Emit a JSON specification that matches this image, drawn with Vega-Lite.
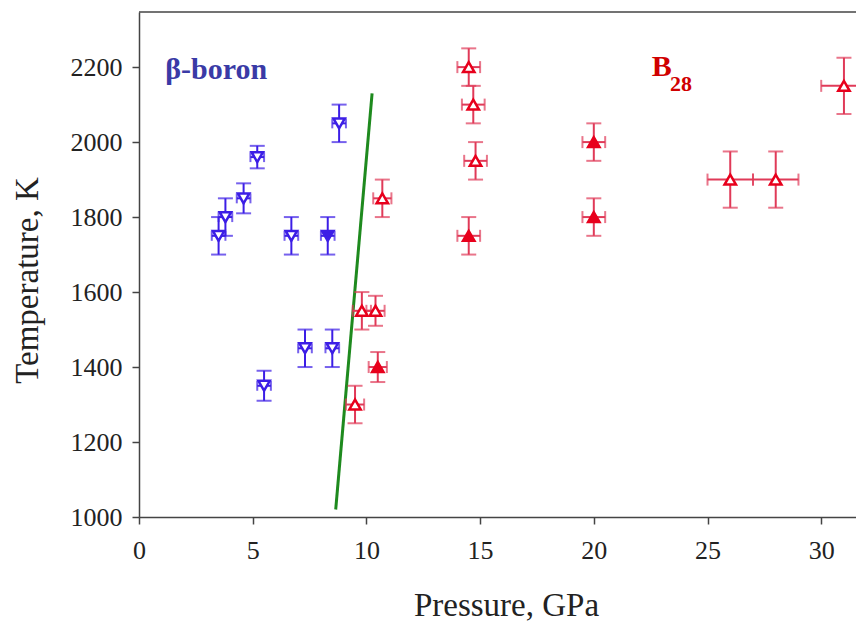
{
  "$schema": "https://vega.github.io/schema/vega-lite/v6.json",
  "autosize": {"type": "none"},
  "width": 717,
  "height": 505,
  "padding": {"left": 139, "top": 12, "right": 0, "bottom": 107},
  "background": "white",
  "config": {
    "view": {"stroke": null},
    "font": "Liberation Serif",
    "axis": {
      "grid": false,
      "labelFlush": false,
      "domainColor": "#444444",
      "domainWidth": 1.5,
      "tickColor": "#444444",
      "tickWidth": 1.5,
      "tickSize": 7,
      "labelFont": "Liberation Serif",
      "labelFontSize": 26,
      "labelColor": "#222222",
      "titleFont": "Liberation Serif",
      "titleFontSize": 33,
      "titleFontWeight": "normal",
      "titleColor": "#222222"
    }
  },
  "datasets": {
    "beta": [
      {"p": 3.5, "t": 1750, "dp": 0.3, "dt": 50, "solid": false},
      {"p": 3.8, "t": 1800, "dp": 0.3, "dt": 50, "solid": false},
      {"p": 4.6, "t": 1850, "dp": 0.3, "dt": 40, "solid": false},
      {"p": 5.2, "t": 1960, "dp": 0.3, "dt": 30, "solid": false},
      {"p": 8.8, "t": 2050, "dp": 0.3, "dt": 50, "solid": false},
      {"p": 6.7, "t": 1750, "dp": 0.3, "dt": 50, "solid": false},
      {"p": 8.3, "t": 1750, "dp": 0.3, "dt": 50, "solid": true},
      {"p": 7.3, "t": 1450, "dp": 0.3, "dt": 50, "solid": false},
      {"p": 8.5, "t": 1450, "dp": 0.3, "dt": 50, "solid": false},
      {"p": 5.5, "t": 1350, "dp": 0.3, "dt": 40, "solid": false}
    ],
    "b28": [
      {"p": 10.7, "t": 1850, "dp": 0.4, "dt": 50, "solid": false},
      {"p": 9.8, "t": 1550, "dp": 0.4, "dt": 50, "solid": false},
      {"p": 10.4, "t": 1550, "dp": 0.4, "dt": 40, "solid": false},
      {"p": 10.5, "t": 1400, "dp": 0.4, "dt": 40, "solid": true},
      {"p": 9.5, "t": 1300, "dp": 0.4, "dt": 50, "solid": false},
      {"p": 14.5, "t": 2200, "dp": 0.5, "dt": 50, "solid": false},
      {"p": 14.7, "t": 2100, "dp": 0.5, "dt": 50, "solid": false},
      {"p": 14.8, "t": 1950, "dp": 0.5, "dt": 50, "solid": false},
      {"p": 14.5, "t": 1750, "dp": 0.5, "dt": 50, "solid": true},
      {"p": 20, "t": 2000, "dp": 0.5, "dt": 50, "solid": true},
      {"p": 20, "t": 1800, "dp": 0.5, "dt": 50, "solid": true},
      {"p": 26, "t": 1900, "dp": 1.0, "dt": 75, "solid": false},
      {"p": 28, "t": 1900, "dp": 1.0, "dt": 75, "solid": false},
      {"p": 31, "t": 2150, "dp": 1.0, "dt": 75, "solid": false}
    ],
    "boundary": [
      {"p": 8.65, "t": 1020, "p2": 10.25, "t2": 2130}
    ],
    "annotations": [
      {"p": 1.15, "t": 2168, "label": "β-boron", "group": "beta"},
      {"p": 22.55, "t": 2176, "label": "B", "group": "b28"},
      {"p": 23.35, "t": 2136, "label": "28", "group": "sub"}
    ],
    "frame": [{"t": 2347}]
  },
  "encoding": {
    "x": {
      "field": "p",
      "type": "quantitative",
      "scale": {"domain": [0, 31.53], "nice": false, "zero": false},
      "axis": {
        "title": "Pressure, GPa",
        "values": [0, 5, 10, 15, 20, 25, 30],
        "format": "d",
        "labelPadding": 13,
        "titleX": 367,
        "titleY": 98,
        "titleBaseline": "alphabetic"
      }
    },
    "y": {
      "field": "t",
      "type": "quantitative",
      "scale": {"domain": [1000, 2347], "nice": false, "zero": false},
      "axis": {
        "title": "Temperature, K",
        "values": [1000, 1200, 1400, 1600, 1800, 2000, 2200],
        "format": "d",
        "labelPadding": 10,
        "titleX": -112,
        "titleY": 268,
        "titleAngle": -90,
        "titleAlign": "center",
        "titleBaseline": "middle"
      }
    }
  },
  "layer": [
    {
      "data": {"name": "frame"},
      "mark": {"type": "rule", "color": "#444444", "strokeWidth": 1.5},
      "encoding": {"x": null}
    },
    {
      "data": {"name": "boundary"},
      "mark": {"type": "rule", "color": "#1e8a1e", "strokeWidth": 3},
      "encoding": {"x2": {"field": "p2"}, "y2": {"field": "t2"}}
    },
    {
      "data": {"name": "beta"},
      "mark": {"type": "errorbar", "ticks": true, "size": 15, "thickness": 2, "color": "#3c1ee6"},
      "encoding": {"yError": {"field": "dt"}}
    },
    {
      "data": {"name": "beta"},
      "mark": {"type": "errorbar", "ticks": true, "size": 10, "thickness": 2, "color": "#3c1ee6"},
      "encoding": {"xError": {"field": "dp"}}
    },
    {
      "data": {"name": "b28"},
      "mark": {"type": "errorbar", "ticks": true, "size": 15, "thickness": 2, "color": "#e03a58"},
      "encoding": {"yError": {"field": "dt"}}
    },
    {
      "data": {"name": "b28"},
      "mark": {"type": "errorbar", "ticks": true, "size": 12, "thickness": 2, "color": "#e03a58"},
      "encoding": {"xError": {"field": "dp"}}
    },
    {
      "data": {"name": "beta"},
      "mark": {"type": "point", "shape": "triangle-down", "size": 130, "strokeWidth": 2.5, "stroke": "#3c1ee6", "opacity": 1},
      "encoding": {
        "fill": {"condition": {"test": "datum.solid", "value": "#3c1ee6"}, "value": "white"}
      }
    },
    {
      "data": {"name": "b28"},
      "mark": {"type": "point", "shape": "triangle-up", "size": 130, "strokeWidth": 2.5, "stroke": "#e8001c", "opacity": 1},
      "encoding": {
        "fill": {"condition": {"test": "datum.solid", "value": "#e8001c"}, "value": "white"}
      }
    },
    {
      "data": {"name": "annotations"},
      "transform": [{"filter": "datum.group === 'beta'"}],
      "mark": {"type": "text", "align": "left", "baseline": "alphabetic", "font": "Liberation Serif", "fontWeight": "bold", "fontSize": 30, "color": "#3a3aa6"},
      "encoding": {"text": {"field": "label"}}
    },
    {
      "data": {"name": "annotations"},
      "transform": [{"filter": "datum.group === 'b28'"}],
      "mark": {"type": "text", "align": "left", "baseline": "alphabetic", "font": "Liberation Serif", "fontWeight": "bold", "fontSize": 30, "color": "#d00000"},
      "encoding": {"text": {"field": "label"}}
    },
    {
      "data": {"name": "annotations"},
      "transform": [{"filter": "datum.group === 'sub'"}],
      "mark": {"type": "text", "align": "left", "baseline": "alphabetic", "font": "Liberation Serif", "fontWeight": "bold", "fontSize": 22, "color": "#d00000"},
      "encoding": {"text": {"field": "label"}}
    }
  ]
}
